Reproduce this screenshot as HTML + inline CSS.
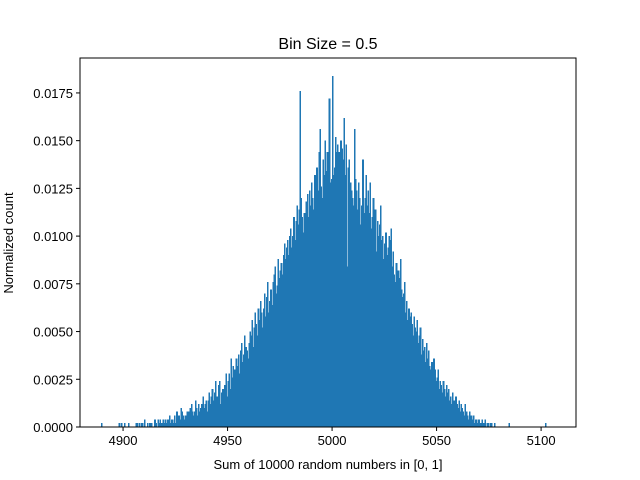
<!DOCTYPE html>
<html><head><meta charset="utf-8"><style>
body{margin:0;background:#fff}
svg{display:block;font-family:"Liberation Sans","DejaVu Sans",sans-serif}
</style></head><body>
<svg id="chart" width="640" height="480">
<rect width="640" height="480" fill="#fff"/>
<text x="328" y="49" text-anchor="middle" font-size="16">Bin Size = 0.5</text>
<g id="bars" shape-rendering="crispEdges"></g>
<g id="axes"></g>
<text x="328" y="469" text-anchor="middle" font-size="13">Sum of 10000 random numbers in [0, 1]</text>
<text transform="translate(13,243) rotate(-90)" text-anchor="middle" font-size="13">Normalized count</text>
</svg>
<script>
const binStart = 4888;
const binWidth = 0.5;
const sampleCount = 10000;
const binCounts = [
0,0,0,1,0,0,0,0,0,0,0,0,0,0,0,0,0,0,0,0,1,0,1,0,
0,1,0,0,0,1,0,0,0,0,0,0,1,1,0,1,0,1,1,0,
2,0,0,1,0,1,1,1,0,0,2,1,0,2,1,2,1,1,2,1,
2,1,2,2,3,1,2,2,1,3,1,4,2,3,2,5,4,3,2,3,
3,4,4,3,5,6,4,3,4,7,5,3,6,4,5,6,8,5,6,7,
4,7,9,6,8,10,7,9,12,8,8,11,12,6,9,10,9,11,14,8,
12,14,10,18,13,16,15,12,18,16,19,14,20,22,17,19,24,21,20,18,
22,25,24,28,21,26,30,27,24,31,28,33,30,26,31,35,29,34,38,30,
33,36,32,38,40,42,35,37,44,39,41,43,40,45,48,44,47,49,45,50,
52,47,50,55,49,54,58,53,57,88,60,55,51,56,52,59,61,55,62,58,
64,60,57,66,61,68,62,72,78,63,60,70,66,75,67,72,71,86,64,65,
92,66,68,76,72,74,72,72,75,73,70,81,66,74,42,68,70,64,62,60,
58,78,65,62,57,64,60,53,58,70,56,60,66,58,62,56,64,52,55,60,
54,57,46,54,50,53,58,49,50,44,48,51,45,47,50,49,52,42,46,40,
38,43,40,41,39,44,36,34,35,38,30,33,28,31,29,30,27,24,29,26,
25,28,22,24,26,19,23,20,21,17,22,18,20,16,15,17,14,18,15,12,
13,15,10,12,11,9,12,10,8,11,9,10,7,8,6,9,7,5,8,6,
5,7,4,6,5,4,3,6,4,3,2,4,3,3,2,3,1,2,2,1,
2,1,1,2,1,1,2,0,1,1,0,1,1,0,0,1,0,0,0,0,
0,0,0,0,0,0,0,0,0,1,0,0,0,0,0,0,0,0,0,0,
0,0,0,0,0,0,0,0,0,0,0,0,0,0,0,0,0,0,0,0,
0,0,0,0,1,0,0,0];
const xTicks = [4900, 4950, 5000, 5050, 5100];
const yTicks = [0, 0.0025, 0.005, 0.0075, 0.01, 0.0125, 0.015, 0.0175];
const yTickLabels = ["0.0000","0.0025","0.0050","0.0075","0.0100","0.0125","0.0150","0.0175"];

const L=80,R=576,T=58,B=427;
const xMin=4879.4,xMax=5116.7,yMax=0.01933;
const xs=v=>L+(v-xMin)/(xMax-xMin)*(R-L);
const ys=v=>B-v/yMax*(B-T);
const NS="http://www.w3.org/2000/svg";
const bars=document.getElementById('bars'), axes=document.getElementById('axes');
binCounts.forEach((c,i)=>{
  if(!c) return;
  const d=c/(sampleCount*binWidth);
  const x0=xs(binStart+i*binWidth), x1=xs(binStart+(i+1)*binWidth);
  const r=document.createElementNS(NS,'rect');
  r.setAttribute('x',x0-0.2);r.setAttribute('width',x1-x0+0.6);
  r.setAttribute('y',ys(d));r.setAttribute('height',B-ys(d));
  r.setAttribute('fill','#1f77b4');
  
  
  bars.appendChild(r);
});
const frame=document.createElementNS(NS,'rect');
frame.setAttribute('x',L);frame.setAttribute('y',T);frame.setAttribute('width',R-L);frame.setAttribute('height',B-T);
frame.setAttribute('fill','none');frame.setAttribute('stroke','#000');frame.setAttribute('stroke-width','1');


axes.appendChild(frame);
xTicks.forEach(t=>{
  const x=xs(t);
  const l=document.createElementNS(NS,'line');
  l.setAttribute('x1',x);l.setAttribute('x2',x);l.setAttribute('y1',B);l.setAttribute('y2',B+4);l.setAttribute('stroke','#000');
  
  
  axes.appendChild(l);
  const tx=document.createElementNS(NS,'text');
  tx.setAttribute('x',x);tx.setAttribute('y',B+18);tx.setAttribute('text-anchor','middle');tx.setAttribute('font-size','13');
  tx.textContent=t;
  
  
  axes.appendChild(tx);
});
yTicks.forEach((t,i)=>{
  const y=ys(t);
  const l=document.createElementNS(NS,'line');
  l.setAttribute('x1',L-4);l.setAttribute('x2',L);l.setAttribute('y1',y);l.setAttribute('y2',y);l.setAttribute('stroke','#000');
  
  
  axes.appendChild(l);
  const tx=document.createElementNS(NS,'text');
  tx.setAttribute('x',L-7);tx.setAttribute('y',y+5);tx.setAttribute('text-anchor','end');tx.setAttribute('font-size','13');
  tx.textContent=yTickLabels[i];
  
  
  axes.appendChild(tx);
});
</script>
</body></html>
